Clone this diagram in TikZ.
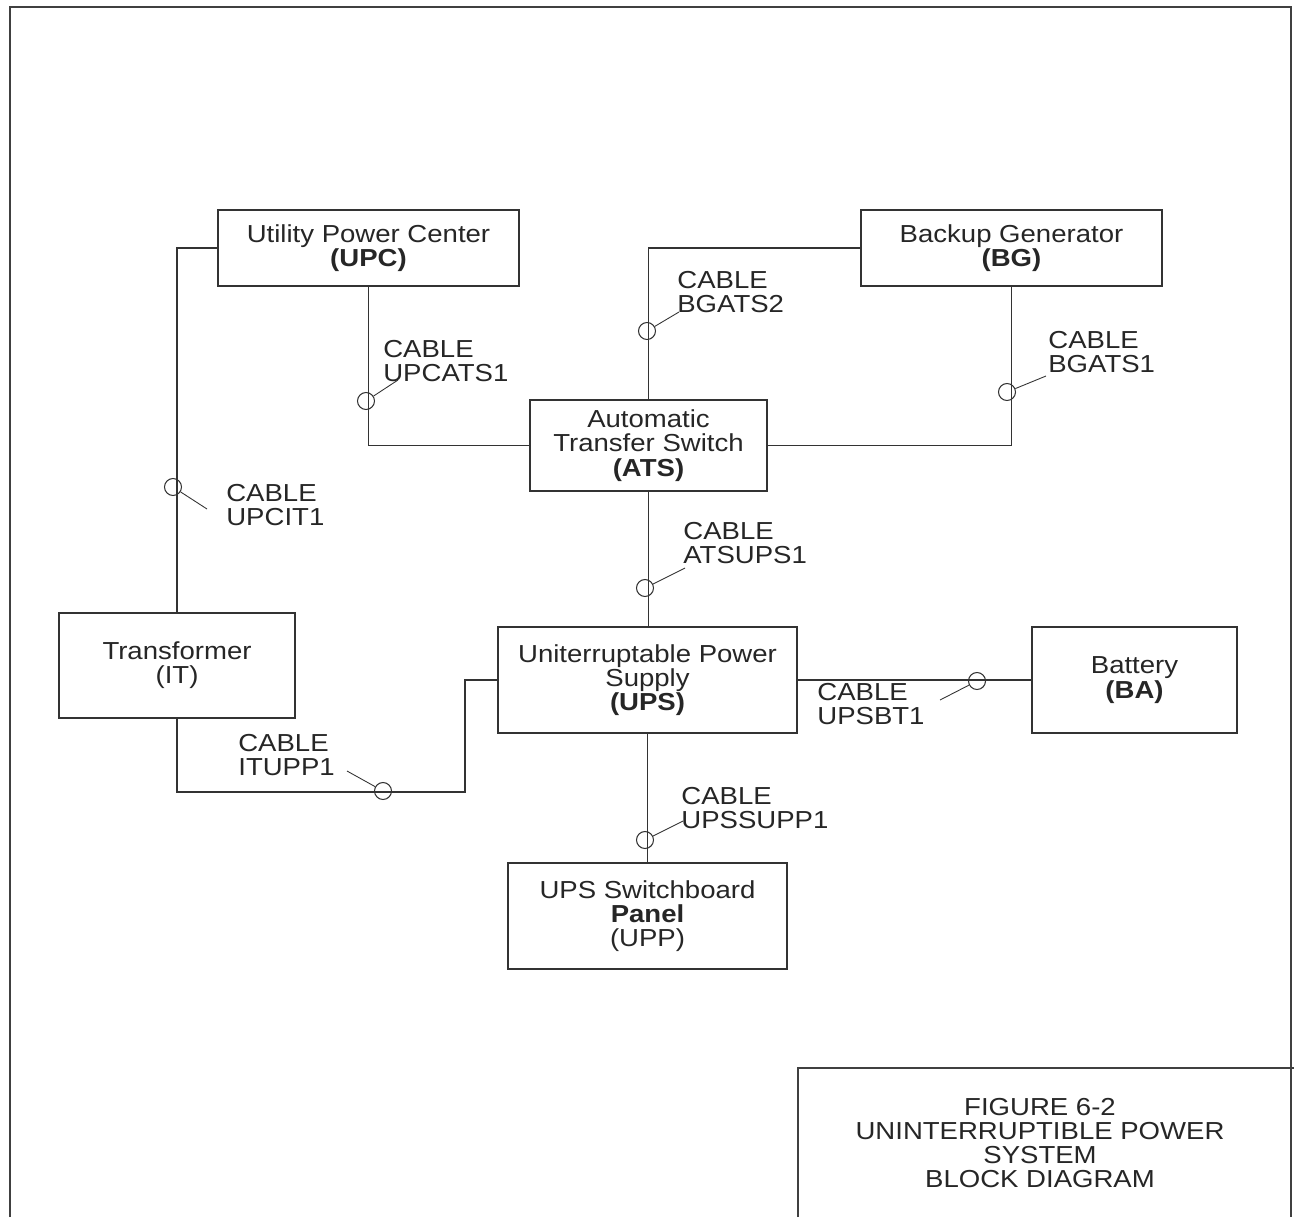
\documentclass[tikz,border=0pt]{standalone}
\usepackage{fontspec}
\setmainfont{Liberation Sans}[FakeStretch=1.12]
\begin{document}
\begin{tikzpicture}[x=0.02cm,y=-0.02cm,
  every node/.style={font=\fontsize{14}{13.8}\selectfont,text=black!85},
  unit/.style={shape=rectangle,draw=black!80,line width=0.8pt,align=center,inner sep=0pt},
  wire/.style={draw=black!80,line width=0.8pt},
  cmark/.style={shape=circle,draw=black!80,line width=0.6pt,minimum size=0.34cm,inner sep=0pt},
  clabel/.style={anchor=west,align=left,inner sep=0pt},
  lead/.style={draw=black!80,line width=0.5pt}]
\useasboundingbox (0,0) rectangle (1294,1217);

% sheet frame and title block
\draw[black!75,line width=1.2pt] (10,1217) -- (10,7) -- (1291,7) -- (1291,1217);
\draw[black!75,line width=1pt] (798,1217) -- (798,1068) -- (1294,1068);
\node[align=center] (title) at (1040,1143) {FIGURE 6-2\\UNINTERRUPTIBLE POWER\\SYSTEM\\BLOCK DIAGRAM};

% units
\node[unit,minimum width=6.02cm,minimum height=1.52cm] (UPC) at (368.5,248) {Utility Power Center\\\textbf{(UPC)}};
\node[unit,minimum width=6.02cm,minimum height=1.52cm] (BG) at (1011.5,248) {Backup Generator\\\textbf{(BG)}};
\node[unit,minimum width=4.74cm,minimum height=1.82cm] (ATS) at (648.5,445.5) {Automatic\\Transfer Switch\\\textbf{(ATS)}};
\node[unit,minimum width=4.72cm,minimum height=2.10cm] (IT) at (177,665.5) {Transformer\\(IT)};
\node[unit,minimum width=5.98cm,minimum height=2.12cm] (UPS) at (647.5,680) {Uniterruptable Power\\Supply\\\textbf{(UPS)}};
\node[unit,minimum width=4.10cm,minimum height=2.12cm] (BA) at (1134.5,680) {Battery\\\textbf{(BA)}};
\node[unit,minimum width=5.58cm,minimum height=2.12cm] (UPP) at (647.5,916) {UPS Switchboard\\\textbf{Panel}\\(UPP)};

% cables
\coordinate (bend) at (465,792);
\draw[wire] (UPC.west) -| (IT.north);
\draw[wire] (UPC.south) |- (ATS.west);
\draw[wire] (BG.west) -| (ATS.north);
\draw[wire] (BG.south) |- (ATS.east);
\draw[wire] (ATS.south) -- (ATS.south |- UPS.north);
\draw[wire] (IT.south) |- (bend) |- (UPS.west);
\draw[wire] (UPS.east) -- (BA.west);
\draw[wire] (UPS.south) -- (UPS.south |- UPP.north);

% cable tags
\node[cmark] (mUPCIT) at (173,487) {};
\node[cmark] (mUPCATS) at (366,401) {};
\node[cmark] (mBGATS2) at (647,331) {};
\node[cmark] (mBGATS1) at (1007,392) {};
\node[cmark] (mATSUPS) at (645,588) {};
\node[cmark] (mITUPP) at (383,791) {};
\node[cmark] (mUPSBT) at (977,681) {};
\node[cmark] (mUPSSUPP) at (645,840) {};

\node[clabel] (lUPCIT) at (226,505) {CABLE\\UPCIT1};
\node[clabel] (lUPCATS) at (383,361) {CABLE\\UPCATS1};
\node[clabel] (lBGATS2) at (677,292) {CABLE\\BGATS2};
\node[clabel] (lBGATS1) at (1048,352) {CABLE\\BGATS1};
\node[clabel] (lATSUPS) at (683,543) {CABLE\\ATSUPS1};
\node[clabel] (lITUPP) at (238,755) {CABLE\\ITUPP1};
\node[clabel] (lUPSBT) at (817,704) {CABLE\\UPSBT1};
\node[clabel] (lUPSSUPP) at (681,808) {CABLE\\UPSSUPP1};

\coordinate (eUPCIT) at (207,509);
\coordinate (eUPCATS) at (398,380);
\coordinate (eBGATS2) at (679,312);
\coordinate (eBGATS1) at (1046,376);
\coordinate (eATSUPS) at (685,568);
\coordinate (eITUPP) at (347,771);
\coordinate (eUPSBT) at (940,700);
\coordinate (eUPSSUPP) at (683,821);

\draw[lead] (mUPCIT) -- (eUPCIT);
\draw[lead] (mUPCATS) -- (eUPCATS);
\draw[lead] (mBGATS2) -- (eBGATS2);
\draw[lead] (mBGATS1) -- (eBGATS1);
\draw[lead] (mATSUPS) -- (eATSUPS);
\draw[lead] (mITUPP) -- (eITUPP);
\draw[lead] (mUPSBT) -- (eUPSBT);
\draw[lead] (mUPSSUPP) -- (eUPSSUPP);
\end{tikzpicture}
\end{document}
